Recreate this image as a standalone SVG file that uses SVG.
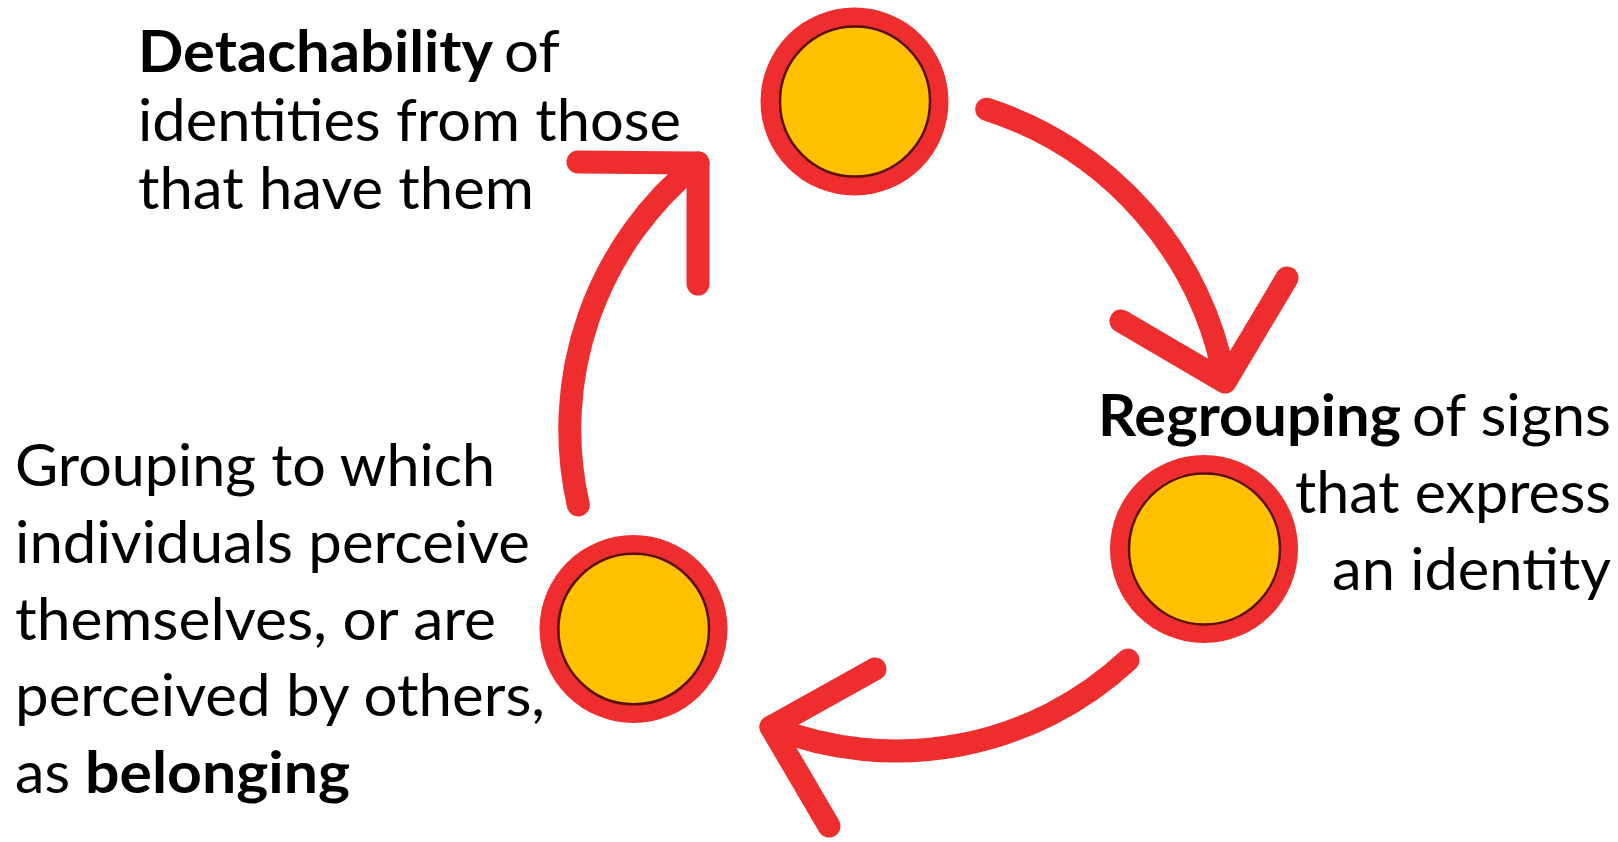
<svg xmlns="http://www.w3.org/2000/svg" width="1618" height="842" viewBox="0 0 1618 842">
  <style>
    .ring { fill: #EE2E2E; }
    .core { fill: #FFC000; stroke: #5A0E0E; stroke-width: 2.5; }
    .arrow { fill: none; stroke: #EE2E2E; stroke-width: 23; stroke-linecap: round; stroke-linejoin: round; }
    .label { font-family: Lato, "Open Sans", "Liberation Sans", sans-serif; font-size: 58px; fill: #000; }
    .b { font-weight: 700; }
  </style>
  <rect width="1618" height="842" fill="#FFFFFF"/>

  <!-- connectors: three curved arrows running clockwise between the nodes -->
  <g id="connectors">
    <g id="arrow-top-right">
      <path class="arrow" d="M986.7,109.3 A351.4,351.4 0 0 1 1225,381"/>
      <path class="arrow" d="M1121,321 L1225,382 L1287,278"/>
    </g>
    <g id="arrow-bottom">
      <path class="arrow" d="M1128,660 A340,340 0 0 1 771,727"/>
      <path class="arrow" d="M875,669 L771,727 L829,826"/>
    </g>
    <g id="arrow-left">
      <path class="arrow" d="M578.3,505 A340.6,340.6 0 0 1 698,163"/>
      <path class="arrow" d="M578,162 L698,163 L698,284"/>
    </g>
  </g>

  <!-- node: detachability -->
  <g id="node-detachability">
    <circle class="ring" cx="854.5" cy="101.5" r="94"/>
    <circle class="core" cx="855" cy="101.5" r="75"/>
    <text class="label b" x="138" y="72" textLength="355" lengthAdjust="spacingAndGlyphs">Detachability</text>
    <text class="label" x="504" y="72" textLength="56" lengthAdjust="spacingAndGlyphs">of</text>
    <text class="label" x="138" y="141" textLength="543" lengthAdjust="spacingAndGlyphs">identities from those</text>
    <text class="label" x="138" y="209" textLength="396" lengthAdjust="spacingAndGlyphs">that have them</text>
  </g>

  <!-- node: regrouping -->
  <g id="node-regrouping">
    <circle class="ring" cx="1204" cy="549" r="94"/>
    <circle class="core" cx="1204.5" cy="549" r="75.5"/>
    <text class="label b" x="1098" y="436" textLength="303" lengthAdjust="spacingAndGlyphs">Regrouping</text>
    <text class="label" x="1611" y="436" text-anchor="end" textLength="199" lengthAdjust="spacingAndGlyphs">of signs</text>
    <text class="label" x="1611" y="513" text-anchor="end" textLength="316" lengthAdjust="spacingAndGlyphs">that express</text>
    <text class="label" x="1611" y="590" text-anchor="end" textLength="279" lengthAdjust="spacingAndGlyphs">an identity</text>
  </g>

  <!-- node: belonging -->
  <g id="node-belonging">
    <circle class="ring" cx="633.5" cy="629" r="94"/>
    <circle class="core" cx="633.7" cy="629" r="75.3"/>
    <text class="label" x="15" y="486" textLength="480" lengthAdjust="spacingAndGlyphs">Grouping to which</text>
    <text class="label" x="15" y="563" textLength="515" lengthAdjust="spacingAndGlyphs">individuals perceive</text>
    <text class="label" x="15" y="640" textLength="481" lengthAdjust="spacingAndGlyphs">themselves, or are</text>
    <text class="label" x="15" y="716" textLength="530" lengthAdjust="spacingAndGlyphs">perceived by others,</text>
    <text class="label" x="15" y="793" textLength="55" lengthAdjust="spacingAndGlyphs">as</text>
    <text class="label b" x="85" y="793" textLength="265" lengthAdjust="spacingAndGlyphs">belonging</text>
  </g>
</svg>
